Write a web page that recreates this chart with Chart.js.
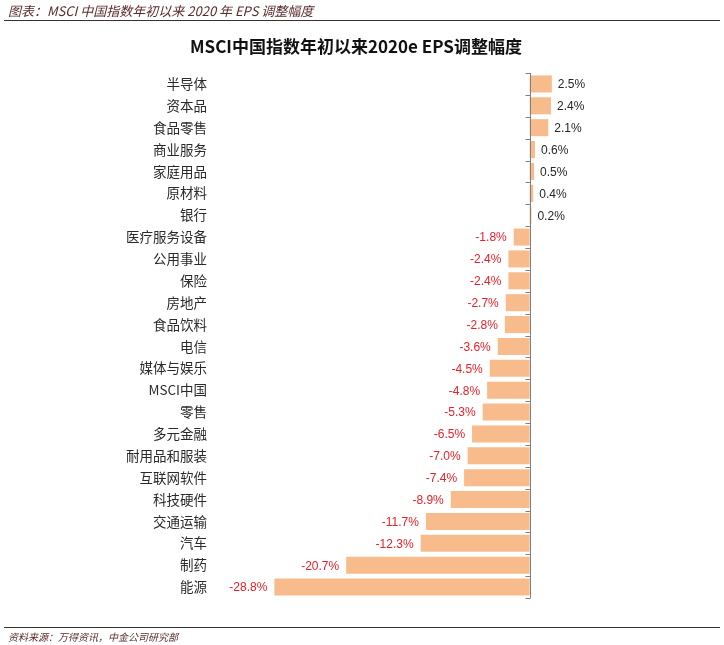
<!DOCTYPE html>
<html>
<head>
<meta charset="utf-8">
<script src="https://cdn.jsdelivr.net/npm/chart.js@4"></script>
<style>
  body { margin: 0; background: #fff; }
  #wrap { position: relative; width: 724px; height: 645px; }
  #chart { position: absolute; left: 0; top: 0; }
  .head { position: absolute; left: 8px; top: 1px; font: italic 13px "Noto Sans CJK SC", sans-serif; color: #5b2b2b; }
  .rule { position: absolute; left: 4px; width: 716px; height: 1px; background: #333; }
  .title { position: absolute; left: 0; width: 712px; top: 33px; text-align: center; font: bold 17px "Noto Sans CJK SC", sans-serif; color: #111; }
  .foot { position: absolute; left: 8px; top: 629px; font: italic 10px "Noto Sans CJK SC", sans-serif; color: #5b2b2b; }
</style>
</head>
<body>
<div id="wrap">
  <canvas id="chart" width="724" height="645"></canvas>
  <div class="head">图表：MSCI 中国指数年初以来 2020 年 EPS 调整幅度</div>
  <div class="rule" style="top:20px"></div>
  <div class="title">MSCI中国指数年初以来2020e EPS调整幅度</div>
  <div class="rule" style="top:627px"></div>
  <div class="foot">资料来源：万得资讯，中金公司研究部</div>
</div>
<script>
const categories = ['半导体', '资本品', '食品零售', '商业服务', '家庭用品', '原材料', '银行',
  '医疗服务设备', '公用事业', '保险', '房地产', '食品饮料', '电信', '媒体与娱乐', 'MSCI中国',
  '零售', '多元金融', '耐用品和服装', '互联网软件', '科技硬件', '交通运输', '汽车', '制药', '能源']
const epsChange = [2.5, 2.4, 2.1, 0.6, 0.5, 0.4, 0.2,
  -1.8, -2.4, -2.4, -2.7, -2.8, -3.6, -4.5, -4.8,
  -5.3, -6.5, -7.0, -7.4, -8.9, -11.7, -12.3, -20.7, -28.8]
</script>
<script>
// 数据标签 + 零轴
const zeroAxis = {
  id: 'zeroAxis',
  afterDatasetsDraw(chart) {
    const { ctx, chartArea, scales } = chart
    const x0 = Math.round(scales.x.getPixelForValue(0)) + 0.5
    ctx.save()
    ctx.strokeStyle = '#7f7f7f'
    ctx.lineWidth = 1
    ctx.beginPath()
    ctx.moveTo(x0, chartArea.top)
    ctx.lineTo(x0, chartArea.bottom)
    const n = categories.length
    const step = (chartArea.bottom - chartArea.top) / n
    for (let i = 0; i <= n; i++) {
      const yy = Math.round(chartArea.top + i * step) + 0.5
      ctx.moveTo(x0 - 5, yy)
      ctx.lineTo(x0, yy)
    }
    ctx.stroke()

    const meta = chart.getDatasetMeta(0)
    ctx.font = '12px "Liberation Sans", Arial, sans-serif'
    ctx.textBaseline = 'middle'
    meta.data.forEach((bar, i) => {
      const v = epsChange[i]
      const txt = v.toFixed(1) + '%'
      if (v >= 0) {
        ctx.fillStyle = '#262626'
        ctx.textAlign = 'left'
        ctx.fillText(txt, bar.x + 6, bar.y + 1)
      } else {
        ctx.fillStyle = '#e8202a'
        ctx.textAlign = 'right'
        ctx.fillText(txt, bar.x - 7, bar.y + 1)
      }
    })
    ctx.restore()
  }
}

new Chart(document.getElementById('chart'), {
  type: 'bar',
  data: {
    labels: categories,
    datasets: [{
      data: epsChange,
      backgroundColor: '#f8bb8b',
      barPercentage: 0.78,
      categoryPercentage: 1
    }]
  },
  options: {
    indexAxis: 'y',
    responsive: false,
    animation: false,
    layout: { padding: { top: 73, bottom: 47, left: 0, right: 150 } },
    plugins: {
      legend: { display: false },
      tooltip: { enabled: false }
    },
    scales: {
      x: { display: false, min: -36.4, max: 5 },
      y: {
        grid: { display: false, drawTicks: false },
        border: { display: false },
        afterFit(scale) { scale.width = 207 },
        ticks: {
          padding: 0,
          color: '#2a2a2a',
          font: { family: '"Noto Sans CJK SC", sans-serif', size: 13.5 }
        }
      }
    }
  },
  plugins: [zeroAxis]
})
</script>
</body>
</html>
